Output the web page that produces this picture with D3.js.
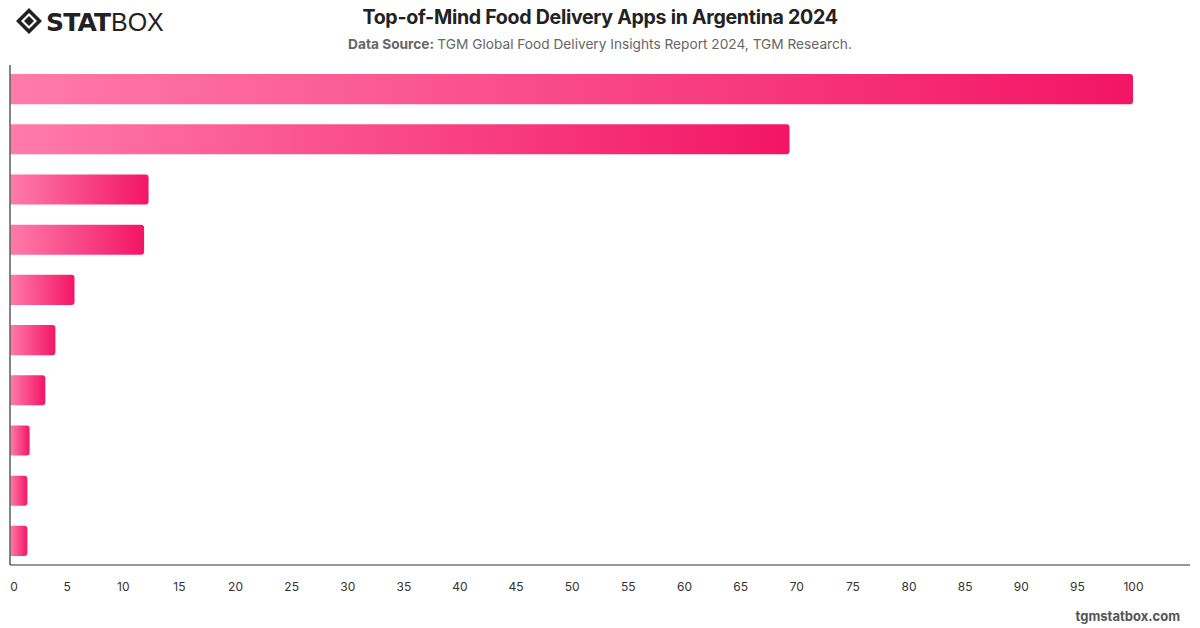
<!DOCTYPE html>
<html>
<head>
    <script src="https://cdn.jsdelivr.net/npm/d3@7"></script>
    <style>
        body { margin: 0; background: #fff; }
        #my-svg { width: 1200px; height: 628px; display: block; font-family: Inter, "Noto Sans", sans-serif; }
    </style>
</head>
<body>

<svg id="my-svg"></svg>

<script type="module">
    // data (category labels are not shown in the chart)
    const apps = ["PedidosYa", "Rappi", "McDonald's", "Mercado Libre", "Uber Eats", "Burger King", "Glovo", "Didi Food", "Cabify", "Other"];
    const shares = [100, 69.4, 12.3, 11.9, 5.7, 4.0, 3.1, 1.7, 1.5, 1.5];
    const xTicks = [0, 5, 10, 15, 20, 25, 30, 35, 40, 45, 50, 55, 60, 65, 70, 75, 80, 85, 90, 95, 100];

    const width = 1200;
    const height = 628;
    const left = 10, right = 1190, top = 65, bottom = 565;

    const svg = d3.select("#my-svg");

    // gradient for bars, light pink on the left to deep pink on the right
    const grad = svg.append("defs").append("linearGradient")
        .attr("id", "barGrad")
        .attr("x1", "0%").attr("x2", "100%").attr("y1", "0%").attr("y2", "0%");
    grad.append("stop").attr("offset", "0%").attr("stop-color", "#ff7ba9");
    grad.append("stop").attr("offset", "100%").attr("stop-color", "#f31565");

    const x = d3.scaleLinear().domain([0, 100]).range([left + 0.5, 1133]);
    const y = d3.scaleBand().domain(apps).range([top, bottom]).paddingInner(0.4).paddingOuter(0.18);

    // bars with rounded right end
    const r = 3;
    svg.append("g").selectAll("path")
        .data(apps)
        .join("path")
        .attr("d", (d, i) => {
            const x0 = x(0), x1 = x(shares[i]), y0 = y(d), h = y.bandwidth();
            return `M${x0},${y0} H${x1 - r} Q${x1},${y0} ${x1},${y0 + r} V${y0 + h - r} Q${x1},${y0 + h} ${x1 - r},${y0 + h} H${x0} Z`;
        })
        .attr("fill", "url(#barGrad)");

    // axis lines
    svg.append("line").attr("x1", left).attr("x2", left).attr("y1", top).attr("y2", bottom)
        .attr("stroke", "#333").attr("stroke-width", 1.2);
    svg.append("line").attr("x1", left).attr("x2", right).attr("y1", bottom).attr("y2", bottom)
        .attr("stroke", "#333").attr("stroke-width", 1.2);

    // x tick labels
    const xAxis = svg.append("g")
        .attr("transform", `translate(0,${bottom})`)
        .call(d3.axisBottom(x).tickValues(xTicks).tickSize(0).tickPadding(17));
    xAxis.select(".domain").remove();
    xAxis.selectAll("text")
        .attr("font-family", "Inter, 'Noto Sans', sans-serif")
        .attr("font-size", 12)
        .attr("fill", "#333")
        .attr("dx", d => d === 0 ? 3 : 0);

    // title and source
    svg.append("text")
        .attr("x", 600).attr("y", 24)
        .attr("text-anchor", "middle")
        .attr("font-size", 19.6).attr("font-weight", 700).attr("fill", "#222")
        .attr("letter-spacing", -0.3)
        .text("Top-of-Mind Food Delivery Apps in Argentina 2024");

    const sub = svg.append("text")
        .attr("x", 600).attr("y", 49)
        .attr("text-anchor", "middle")
        .attr("font-size", 13.7).attr("fill", "#666");
    sub.append("tspan").attr("font-weight", 700).text("Data Source: ");
    sub.append("tspan").text("TGM Global Food Delivery Insights Report 2024, TGM Research.");

    // footer
    svg.append("text")
        .attr("x", 1180).attr("y", 621)
        .attr("text-anchor", "end")
        .attr("font-size", 13).attr("font-weight", 700).attr("fill", "#555")
        .text("tgmstatbox.com");

    // logo
    const logo = svg.append("g").attr("transform", "translate(16,8)");
    logo.append("path")
        .attr("d", "M13,0 L26,13 L13,26 L0,13 Z M13,5 L5,13 L13,21 L21,13 Z")
        .attr("fill", "#222").attr("fill-rule", "evenodd");
    logo.append("path")
        .attr("d", "M13,8 L18,13 L13,18 L8,13 Z")
        .attr("fill", "#222");
    logo.append("text")
        .attr("x", 30).attr("y", 23)
        .attr("font-family", "'DejaVu Sans', sans-serif")
        .attr("font-size", 25).attr("font-weight", 900).attr("fill", "#222")
        .attr("letter-spacing", -0.8)
        .text("STAT");
    logo.append("text")
        .attr("x", 95).attr("y", 23)
        .attr("font-family", "'Liberation Sans', sans-serif")
        .attr("font-size", 25).attr("font-weight", 400).attr("fill", "#222")
        .text("BOX");
</script>
</body>
</html>
